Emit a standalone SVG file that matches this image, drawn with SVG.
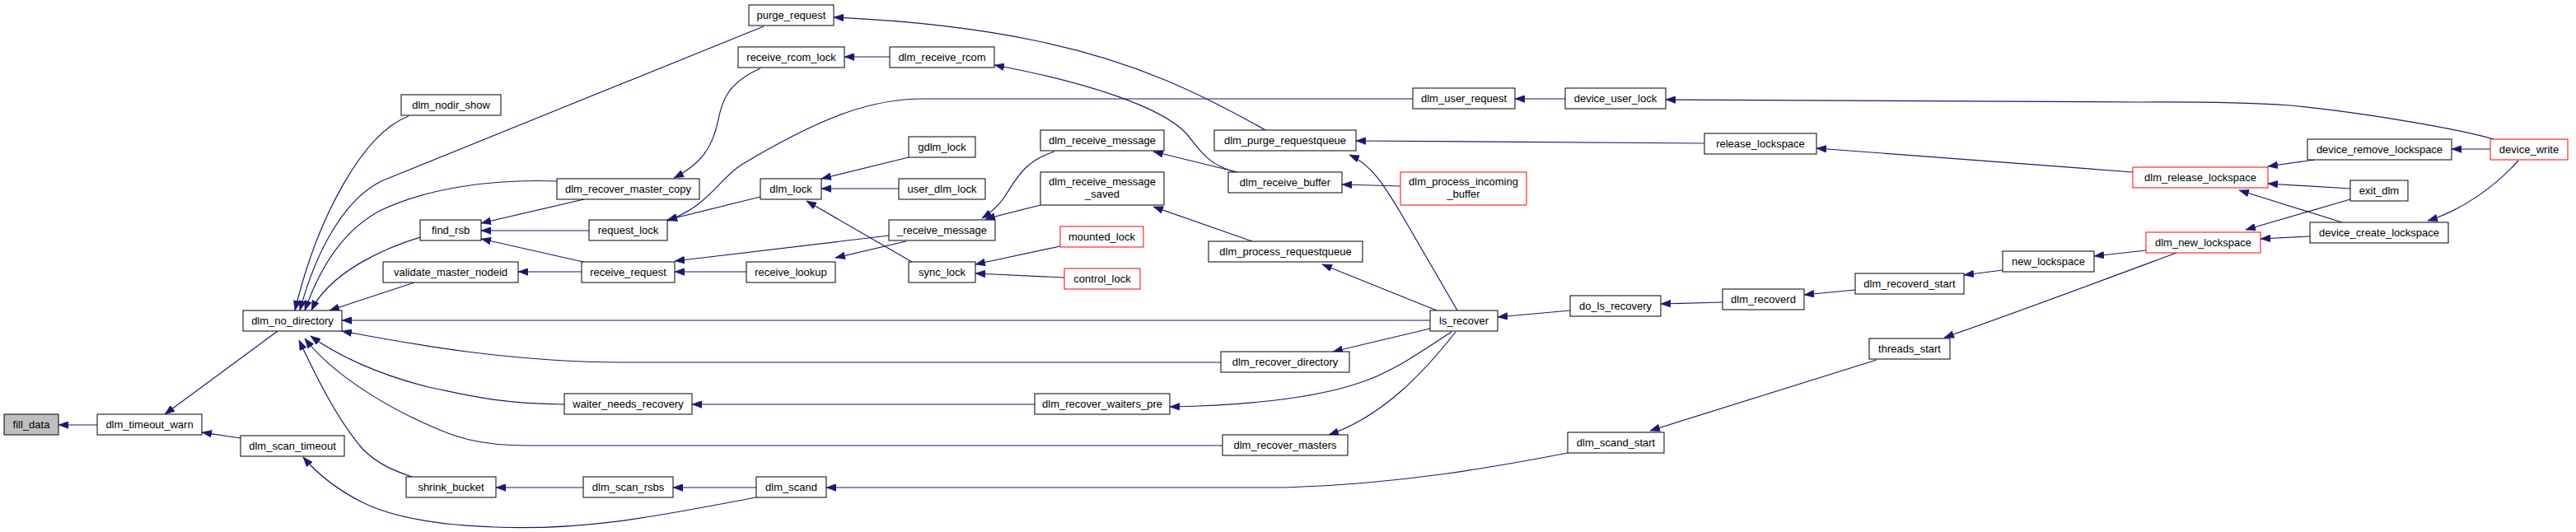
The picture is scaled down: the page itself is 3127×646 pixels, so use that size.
<svg xmlns="http://www.w3.org/2000/svg" width="3127" height="646" viewBox="0 0 3127 646">
<style>
.node rect{fill:#ffffff;stroke:#000000;stroke-width:1}
.node.red rect{stroke:#ff0000}
.node.cur rect{fill:#bfbfbf}
.node text{font-family:"Liberation Sans",Arial,sans-serif;font-size:13px;text-anchor:middle;fill:#000}
#edges path{fill:none;stroke:#191970;stroke-width:1.2;marker-end:url(#arr)}
</style>
<defs>
<marker id="arr" markerWidth="12" markerHeight="9" refX="12" refY="4.5" orient="auto" markerUnits="userSpaceOnUse">
<path d="M0,0L12,4.5L0,9z" fill="#191970" stroke="#191970" stroke-width="0.5"/>
</marker>
</defs>
<rect width="3127" height="646" fill="#ffffff"/>
<g id="edges">
<path d="M118,516L71,516"/>
<path d="M337,402L200,503"/>
<path d="M292,532L245,525"/>
<path d="M496,141C440,162 385,265 358,377"/>
<path d="M927,32L465,219C420,240 385,300 364,377"/>
<path d="M676,220C600,217 520,228 463,255C420,277 390,320 370,377"/>
<path d="M510,288C470,300 400,330 378,377"/>
<path d="M503,343L400,377"/>
<path d="M1736,389L415,389"/>
<path d="M1482,440L760,440C620,440 500,418 415,402"/>
<path d="M685,491C600,490 560,478 520,470C460,455 410,432 377,408"/>
<path d="M1484,541L640,541C580,541 550,530 520,516C460,490 400,450 370,411"/>
<path d="M500,579C480,572 460,565 440,545C410,510 385,460 363,413"/>
<path d="M918,604C820,622 720,645 600,640C520,637 470,625 440,610C410,595 385,575 368,555"/>
<path d="M709,242L584,271"/>
<path d="M715,280L584,280"/>
<path d="M708,318L584,290"/>
<path d="M923,83C885,100 877,120 872,145C865,180 850,200 818,216"/>
<path d="M1080,69L1025,69"/>
<path d="M1536,158C1460,115 1380,75 1260,50C1180,33 1100,25 1012,21"/>
<path d="M1500,209C1465,200 1455,180 1440,162C1410,130 1320,100 1207,79"/>
<path d="M1715,120L1120,120C1060,120 1000,140 900,200C870,220 860,250 810,268"/>
<path d="M923,239L810,267"/>
<path d="M1103,191L997,217"/>
<path d="M1091,229L997,229"/>
<path d="M1107,318L979,244"/>
<path d="M906,330L819,330"/>
<path d="M706,330L629,330"/>
<path d="M1079,286L819,317"/>
<path d="M1100,293L1014,313"/>
<path d="M1280,184C1245,195 1235,215 1222,235C1213,250 1203,258 1192,265"/>
<path d="M1263,249L1196,266"/>
<path d="M1287,299L1184,321"/>
<path d="M1292,337L1184,332"/>
<path d="M1256,491L840,491"/>
<path d="M1502,209L1400,184"/>
<path d="M1520,293L1400,251"/>
<path d="M2069,174L1646,171"/>
<path d="M1769,377L1700,258C1680,225 1665,200 1638,188"/>
<path d="M1744,377L1605,321"/>
<path d="M1700,226L1629,224"/>
<path d="M1900,120L1839,120"/>
<path d="M3027,169C2990,158 2880,138 2780,128C2700,123 2650,124 2600,124L2022,121"/>
<path d="M1906,377L1818,385"/>
<path d="M1736,399L1618,427"/>
<path d="M1762,403C1720,430 1690,452 1650,465C1600,482 1520,492 1420,494"/>
<path d="M1767,403C1730,450 1680,505 1613,528"/>
<path d="M2091,367L2016,369"/>
<path d="M2252,352L2190,358"/>
<path d="M2431,328L2384,334"/>
<path d="M2605,304L2542,311"/>
<path d="M2642,307C2580,330 2460,375 2360,410"/>
<path d="M1903,550C1820,566 1700,588 1560,592L1003,592"/>
<path d="M2278,437L2003,523"/>
<path d="M918,592L817,592"/>
<path d="M708,592L602,592"/>
<path d="M2589,209L2205,180"/>
<path d="M2810,194L2753,202"/>
<path d="M2853,229L2753,223"/>
<path d="M2843,270L2718,231"/>
<path d="M2853,242L2726,279"/>
<path d="M2804,287L2744,290"/>
<path d="M3023,181L2976,181"/>
<path d="M3057,195C3030,225 2990,255 2947,268"/>
</g>
<g id="n_fill_data" class="node cur"><rect x="5" y="503" width="66" height="25"/><text x="38" y="519.5">fill_data</text></g>
<g id="n_dlm_timeout_warn" class="node"><rect x="118" y="503" width="127" height="25"/><text x="181.5" y="519.5">dlm_timeout_warn</text></g>
<g id="n_dlm_no_directory" class="node"><rect x="295" y="377" width="120" height="25"/><text x="355" y="393.5">dlm_no_directory</text></g>
<g id="n_dlm_scan_timeout" class="node"><rect x="292" y="529" width="126" height="25"/><text x="355" y="545.5">dlm_scan_timeout</text></g>
<g id="n_dlm_nodir_show" class="node"><rect x="487" y="115" width="121" height="25"/><text x="547.5" y="131.5">dlm_nodir_show</text></g>
<g id="n_find_rsb" class="node"><rect x="510" y="267" width="74" height="25"/><text x="547" y="283.5">find_rsb</text></g>
<g id="n_validate_master_nodeid" class="node"><rect x="465" y="318" width="164" height="25"/><text x="547" y="334.5">validate_master_nodeid</text></g>
<g id="n_shrink_bucket" class="node"><rect x="493" y="579" width="109" height="25"/><text x="547.5" y="595.5">shrink_bucket</text></g>
<g id="n_purge_request" class="node"><rect x="909" y="6" width="103" height="25"/><text x="960.5" y="22.5">purge_request</text></g>
<g id="n_receive_rcom_lock" class="node"><rect x="896" y="57" width="129" height="25"/><text x="960.5" y="73.5">receive_rcom_lock</text></g>
<g id="n_dlm_recover_master_copy" class="node"><rect x="676" y="217" width="173" height="25"/><text x="762.5" y="233.5">dlm_recover_master_copy</text></g>
<g id="n_request_lock" class="node"><rect x="715" y="267" width="95" height="25"/><text x="762.5" y="283.5">request_lock</text></g>
<g id="n_receive_request" class="node"><rect x="706" y="318" width="113" height="25"/><text x="762.5" y="334.5">receive_request</text></g>
<g id="n_waiter_needs_recovery" class="node"><rect x="685" y="478" width="155" height="25"/><text x="762.5" y="494.5">waiter_needs_recovery</text></g>
<g id="n_dlm_scan_rsbs" class="node"><rect x="708" y="579" width="109" height="25"/><text x="762.5" y="595.5">dlm_scan_rsbs</text></g>
<g id="n_dlm_lock" class="node"><rect x="923" y="217" width="74" height="25"/><text x="960" y="233.5">dlm_lock</text></g>
<g id="n_receive_lookup" class="node"><rect x="906" y="318" width="108" height="25"/><text x="960" y="334.5">receive_lookup</text></g>
<g id="n_dlm_scand" class="node"><rect x="918" y="579" width="85" height="25"/><text x="960.5" y="595.5">dlm_scand</text></g>
<g id="n_dlm_receive_rcom" class="node"><rect x="1080" y="57" width="127" height="25"/><text x="1143.5" y="73.5">dlm_receive_rcom</text></g>
<g id="n_gdlm_lock" class="node"><rect x="1103" y="166" width="81" height="25"/><text x="1143.5" y="182.5">gdlm_lock</text></g>
<g id="n_user_dlm_lock" class="node"><rect x="1091" y="217" width="105" height="25"/><text x="1143.5" y="233.5">user_dlm_lock</text></g>
<g id="n__receive_message" class="node"><rect x="1079" y="267" width="129" height="25"/><text x="1143.5" y="283.5">_receive_message</text></g>
<g id="n_sync_lock" class="node"><rect x="1103" y="318" width="81" height="25"/><text x="1143.5" y="334.5">sync_lock</text></g>
<g id="n_dlm_receive_message" class="node"><rect x="1263" y="158" width="150" height="25"/><text x="1338" y="174.5">dlm_receive_message</text></g>
<g id="n_dlm_receive_message_saved" class="node"><rect x="1263" y="209" width="150" height="40"/><text x="1338" y="225">dlm_receive_message</text><text x="1338" y="240">_saved</text></g>
<g id="n_mounted_lock" class="node red"><rect x="1287" y="275" width="101" height="25"/><text x="1337.5" y="291.5">mounted_lock</text></g>
<g id="n_control_lock" class="node red"><rect x="1292" y="326" width="92" height="25"/><text x="1338" y="342.5">control_lock</text></g>
<g id="n_dlm_recover_waiters_pre" class="node"><rect x="1256" y="478" width="164" height="25"/><text x="1338" y="494.5">dlm_recover_waiters_pre</text></g>
<g id="n_dlm_purge_requestqueue" class="node"><rect x="1474" y="158" width="172" height="25"/><text x="1560" y="174.5">dlm_purge_requestqueue</text></g>
<g id="n_dlm_receive_buffer" class="node"><rect x="1491" y="209" width="138" height="25"/><text x="1560" y="225.5">dlm_receive_buffer</text></g>
<g id="n_dlm_process_requestqueue" class="node"><rect x="1467" y="293" width="187" height="25"/><text x="1560.5" y="309.5">dlm_process_requestqueue</text></g>
<g id="n_dlm_recover_directory" class="node"><rect x="1482" y="427" width="156" height="25"/><text x="1560" y="443.5">dlm_recover_directory</text></g>
<g id="n_dlm_recover_masters" class="node"><rect x="1484" y="528" width="152" height="25"/><text x="1560" y="544.5">dlm_recover_masters</text></g>
<g id="n_dlm_user_request" class="node"><rect x="1715" y="107" width="124" height="25"/><text x="1777" y="123.5">dlm_user_request</text></g>
<g id="n_dlm_process_incoming_buffer" class="node red"><rect x="1700" y="209" width="153" height="40"/><text x="1776.5" y="225">dlm_process_incoming</text><text x="1776.5" y="240">_buffer</text></g>
<g id="n_ls_recover" class="node"><rect x="1736" y="377" width="82" height="25"/><text x="1777" y="393.5">ls_recover</text></g>
<g id="n_device_user_lock" class="node"><rect x="1900" y="107" width="122" height="25"/><text x="1961" y="123.5">device_user_lock</text></g>
<g id="n_release_lockspace" class="node"><rect x="2069" y="162" width="136" height="25"/><text x="2137" y="178.5">release_lockspace</text></g>
<g id="n_do_ls_recovery" class="node"><rect x="1906" y="359" width="110" height="25"/><text x="1961" y="375.5">do_ls_recovery</text></g>
<g id="n_dlm_scand_start" class="node"><rect x="1903" y="525" width="117" height="25"/><text x="1961.5" y="541.5">dlm_scand_start</text></g>
<g id="n_dlm_recoverd" class="node"><rect x="2091" y="351" width="99" height="25"/><text x="2140.5" y="367.5">dlm_recoverd</text></g>
<g id="n_dlm_recoverd_start" class="node"><rect x="2252" y="332" width="132" height="25"/><text x="2318" y="348.5">dlm_recoverd_start</text></g>
<g id="n_threads_start" class="node"><rect x="2269" y="411" width="98" height="25"/><text x="2318" y="427.5">threads_start</text></g>
<g id="n_new_lockspace" class="node"><rect x="2431" y="305" width="111" height="25"/><text x="2486.5" y="321.5">new_lockspace</text></g>
<g id="n_dlm_release_lockspace" class="node red"><rect x="2589" y="203" width="164" height="25"/><text x="2671" y="219.5">dlm_release_lockspace</text></g>
<g id="n_dlm_new_lockspace" class="node red"><rect x="2605" y="282" width="139" height="25"/><text x="2674.5" y="298.5">dlm_new_lockspace</text></g>
<g id="n_device_remove_lockspace" class="node"><rect x="2801" y="169" width="175" height="25"/><text x="2888.5" y="185.5">device_remove_lockspace</text></g>
<g id="n_exit_dlm" class="node"><rect x="2853" y="219" width="70" height="25"/><text x="2888" y="235.5">exit_dlm</text></g>
<g id="n_device_create_lockspace" class="node"><rect x="2804" y="270" width="168" height="25"/><text x="2888" y="286.5">device_create_lockspace</text></g>
<g id="n_device_write" class="node red"><rect x="3023" y="169" width="94" height="25"/><text x="3070" y="185.5">device_write</text></g>
</svg>
